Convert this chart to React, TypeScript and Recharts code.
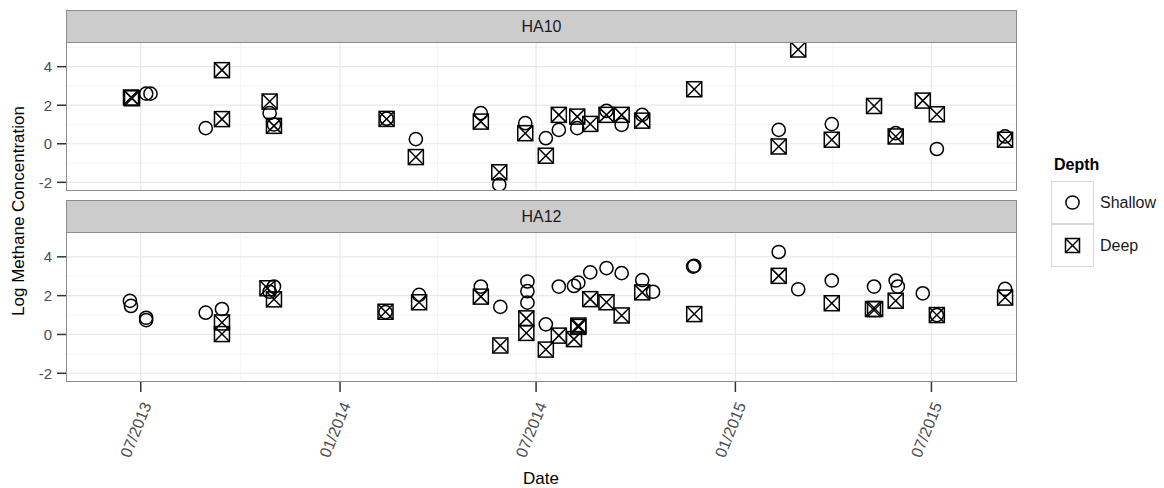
import React from 'react';
import { ScatterChart, Scatter, XAxis, YAxis, ReferenceLine } from 'recharts';

const FONT = '"Liberation Sans", Arial, Helvetica, sans-serif';

// axis setup
const xRange = ['2013-04-23', '2015-09-18'];
const xTickDates = ['2013-07-01', '2014-01-01', '2014-07-01', '2015-01-01', '2015-07-01'];
const xMinorDates = ['2013-10-01', '2014-04-01', '2014-10-01', '2015-04-01'];
const yRange = [-2.45, 5.28];
const yTicks = [-2, 0, 2, 4];
const yMinor = [-1, 1, 3, 5];
const depths = ['Shallow', 'Deep'];

// HA10
const ha10ShallowDates = [
  '2013-07-06', '2013-07-10', '2013-08-30', '2013-10-28', '2013-11-01', '2014-02-13',
  '2014-03-12', '2014-05-11', '2014-05-28', '2014-06-21', '2014-07-10', '2014-07-22',
  '2014-08-08', '2014-09-04', '2014-09-18', '2014-10-07', '2015-02-10', '2015-03-31',
  '2015-05-29', '2015-07-06', '2015-09-07',
];
const ha10ShallowValues = [
  2.6, 2.6, 0.81, 1.59, 1.0, 1.3,
  0.24, 1.59, -2.12, 1.07, 0.29, 0.72,
  0.81, 1.71, 0.98, 1.5, 0.72, 1.02,
  0.55, -0.27, 0.38,
];
const ha10DeepDates = [
  '2013-06-22', '2013-06-23', '2013-09-14', '2013-09-14', '2013-10-28', '2013-11-01',
  '2014-02-13', '2014-03-12', '2014-05-11', '2014-05-28', '2014-06-21', '2014-07-10',
  '2014-07-22', '2014-08-08', '2014-08-20', '2014-09-04', '2014-09-18', '2014-10-07',
  '2014-11-24', '2015-02-10', '2015-02-28', '2015-03-31', '2015-05-09', '2015-05-29',
  '2015-06-23', '2015-07-06', '2015-09-07',
];
const ha10DeepValues = [
  2.4, 2.36, 3.82, 1.28, 2.19, 0.93,
  1.29, -0.69, 1.15, -1.48, 0.55, -0.62,
  1.5, 1.41, 1.03, 1.5, 1.5, 1.2,
  2.83, -0.14, 4.89, 0.21, 1.96, 0.38,
  2.24, 1.53, 0.21,
];

// HA12
const ha12ShallowDates = [
  '2013-06-21', '2013-06-22', '2013-07-06', '2013-07-06', '2013-08-30', '2013-09-14',
  '2013-10-28', '2013-11-01', '2014-02-12', '2014-03-15', '2014-05-11', '2014-05-29',
  '2014-06-23', '2014-06-23', '2014-06-23', '2014-07-10', '2014-07-22', '2014-08-05',
  '2014-08-09', '2014-08-20', '2014-09-04', '2014-09-18', '2014-10-07', '2014-10-17',
  '2014-11-23', '2014-11-24', '2015-02-10', '2015-02-28', '2015-03-31', '2015-05-09',
  '2015-05-29', '2015-05-31', '2015-06-23', '2015-07-06', '2015-09-07',
];
const ha12ShallowValues = [
  1.73, 1.47, 0.86, 0.74, 1.12, 1.31,
  2.2, 2.47, 1.15, 2.04, 2.47, 1.42,
  2.73, 2.23, 1.64, 0.52, 2.47, 2.5,
  2.67, 3.2, 3.42, 3.16, 2.8, 2.2,
  3.5, 3.54, 4.25, 2.33, 2.78, 2.47,
  2.78, 2.47, 2.12, 1.0, 2.35,
];
const ha12DeepDates = [
  '2013-09-14', '2013-09-14', '2013-10-26', '2013-11-01', '2014-02-12', '2014-03-15',
  '2014-05-11', '2014-05-29', '2014-06-22', '2014-06-22', '2014-07-10', '2014-07-22',
  '2014-08-05', '2014-08-09', '2014-08-09', '2014-08-20', '2014-09-04', '2014-09-18',
  '2014-10-07', '2014-11-24', '2015-02-10', '2015-03-31', '2015-05-08', '2015-05-10',
  '2015-05-29', '2015-07-06', '2015-09-07',
];
const ha12DeepValues = [
  0.62, 0.02, 2.38, 1.81, 1.17, 1.66,
  1.95, -0.57, 0.83, 0.08, -0.78, -0.06,
  -0.24, 0.46, 0.39, 1.82, 1.66, 0.98,
  2.17, 1.05, 3.02, 1.61, 1.31, 1.31,
  1.74, 1.0, 1.9,
];

const toDay = (s: string) => Date.parse(s + 'T00:00:00Z') / 86400000;
const toPoints = (dates: string[], values: number[]) =>
  dates.map((d, i) => ({ t: toDay(d), v: values[i] }));

const xDomain = xRange.map(toDay);
const xTicks = xTickDates.map(toDay);
const xMinor = xMinorDates.map(toDay);

const fmtDate = (t: number) => {
  const d = new Date(t * 86400000);
  return String(d.getUTCMonth() + 1).padStart(2, '0') + '/' + d.getUTCFullYear();
};

const CircleMark = (p: any) => (
  <circle cx={p.cx} cy={p.cy} r={6.6} fill="none" stroke="#000" strokeWidth={1.5} />
);

const BoxXMark = (p: any) => {
  const h = 7.5;
  return (
    <g stroke="#000" strokeWidth={1.5} fill="none">
      <rect x={p.cx - h} y={p.cy - h} width={2 * h} height={2 * h} />
      <line x1={p.cx - h} y1={p.cy - h} x2={p.cx + h} y2={p.cy + h} />
      <line x1={p.cx - h} y1={p.cy + h} x2={p.cx + h} y2={p.cy - h} />
    </g>
  );
};

function DateTick(props: any) {
  const { x, y, payload } = props;
  const px = x + 11;
  const py = y + 11;
  return (
    <text
      x={px}
      y={py}
      transform={`rotate(-68 ${px} ${py})`}
      textAnchor="end"
      fontSize={16}
      fontFamily={FONT}
      fill="#4d4d4d"
    >
      {fmtDate(payload.value)}
    </text>
  );
}

function Panel({
  name,
  shallow,
  deep,
  top,
  height,
  showX,
}: {
  name: string;
  shallow: { t: number; v: number }[];
  deep: { t: number; v: number }[];
  top: number;
  height: number;
  showX: boolean;
}) {
  const bottom = showX ? 6 : 9;
  const plotH = height - 42 - bottom - (showX ? 100 : 0);
  return (
    <div style={{ position: 'absolute', left: 0, top, width: 1164, height }}>
      <ScatterChart width={1164} height={height} margin={{ top: 42, right: 147, left: 16, bottom }}>
        {xMinor.map((v) => (
          <ReferenceLine key={'xm' + v} x={v} stroke="#f4f4f4" strokeWidth={1} />
        ))}
        {yMinor.map((v) => (
          <ReferenceLine key={'ym' + v} y={v} stroke="#f4f4f4" strokeWidth={1} />
        ))}
        {xTicks.map((v) => (
          <ReferenceLine key={'x' + v} x={v} stroke="#e8e8e8" strokeWidth={1.2} />
        ))}
        {yTicks.map((v) => (
          <ReferenceLine key={'y' + v} y={v} stroke="#e8e8e8" strokeWidth={1.2} />
        ))}
        <XAxis
          type="number"
          dataKey="t"
          domain={xDomain}
          ticks={xTicks}
          allowDataOverflow
          hide={!showX}
          height={100}
          axisLine={false}
          tickSize={10}
          tickLine={{ stroke: '#333', strokeWidth: 1.5 }}
          tick={<DateTick />}
        />
        <YAxis
          type="number"
          dataKey="v"
          domain={yRange}
          ticks={yTicks}
          allowDataOverflow
          width={50}
          axisLine={false}
          tickSize={9}
          tickMargin={5}
          tickLine={{ stroke: '#333', strokeWidth: 1.5 }}
          tick={{ fill: '#4d4d4d', fontSize: 15, fontFamily: FONT }}
        />
        <Scatter name="Shallow" data={shallow} shape={CircleMark} isAnimationActive={false} />
        <Scatter name="Deep" data={deep} shape={BoxXMark} isAnimationActive={false} />
      </ScatterChart>
      <div
        style={{
          position: 'absolute',
          left: 66,
          top: 10,
          width: 951,
          height: 33,
          boxSizing: 'border-box',
          background: '#cccccc',
          border: '1px solid #8c8c8c',
          textAlign: 'center',
          lineHeight: '31px',
          fontSize: 16,
          color: '#1a1a1a',
        }}
      >
        {name}
      </div>
      <div
        style={{
          position: 'absolute',
          left: 66,
          top: 42,
          width: 951,
          height: plotH,
          boxSizing: 'border-box',
          border: '1px solid #8c8c8c',
          pointerEvents: 'none',
        }}
      />
    </div>
  );
}

export default function App() {
  const keyBox = (top: number, glyph: React.ReactNode) => (
    <div
      style={{
        position: 'absolute',
        left: 1051,
        top,
        width: 43,
        height: 43,
        boxSizing: 'border-box',
        border: '1px solid #d9d9d9',
        background: '#fff',
      }}
    >
      <svg width={41} height={41}>{glyph}</svg>
    </div>
  );
  return (
    <div
      style={{
        position: 'absolute',
        left: 0,
        top: 0,
        width: 1164,
        height: 488,
        background: '#fff',
        fontFamily: FONT,
        overflow: 'hidden',
      }}
    >
      <Panel
        name="HA10"
        shallow={toPoints(ha10ShallowDates, ha10ShallowValues)}
        deep={toPoints(ha10DeepDates, ha10DeepValues)}
        top={0}
        height={200}
        showX={false}
      />
      <Panel
        name="HA12"
        shallow={toPoints(ha12ShallowDates, ha12ShallowValues)}
        deep={toPoints(ha12DeepDates, ha12DeepValues)}
        top={190}
        height={298}
        showX
      />
      <div
        style={{
          position: 'absolute',
          left: 18.5 - 150,
          top: 211 - 10,
          width: 300,
          height: 20,
          lineHeight: '20px',
          textAlign: 'center',
          fontSize: 17,
          color: '#000',
          transform: 'rotate(-90deg)',
        }}
      >
        Log Methane Concentration
      </div>
      <div
        style={{
          position: 'absolute',
          left: 491,
          top: 469,
          width: 100,
          lineHeight: '20px',
          textAlign: 'center',
          fontSize: 17,
          color: '#000',
        }}
      >
        Date
      </div>
      <div
        style={{
          position: 'absolute',
          left: 1054,
          top: 155,
          fontSize: 16,
          fontWeight: 'bold',
          lineHeight: '20px',
          color: '#000',
        }}
      >
        Depth
      </div>
      {keyBox(181, <circle cx={20.5} cy={20.5} r={6.6} fill="none" stroke="#000" strokeWidth={1.5} />)}
      {keyBox(
        224,
        <g stroke="#000" strokeWidth={1.5} fill="none">
          <rect x={13.5} y={13.5} width={14} height={14} />
          <line x1={13.5} y1={13.5} x2={27.5} y2={27.5} />
          <line x1={13.5} y1={27.5} x2={27.5} y2={13.5} />
        </g>
      )}
      {depths.map((d, i) => (
        <div
          key={d}
          style={{
            position: 'absolute',
            left: 1100,
            top: 193 + i * 43,
            lineHeight: '20px',
            fontSize: 16,
            color: '#1a1a1a',
          }}
        >
          {d}
        </div>
      ))}
    </div>
  );
}
